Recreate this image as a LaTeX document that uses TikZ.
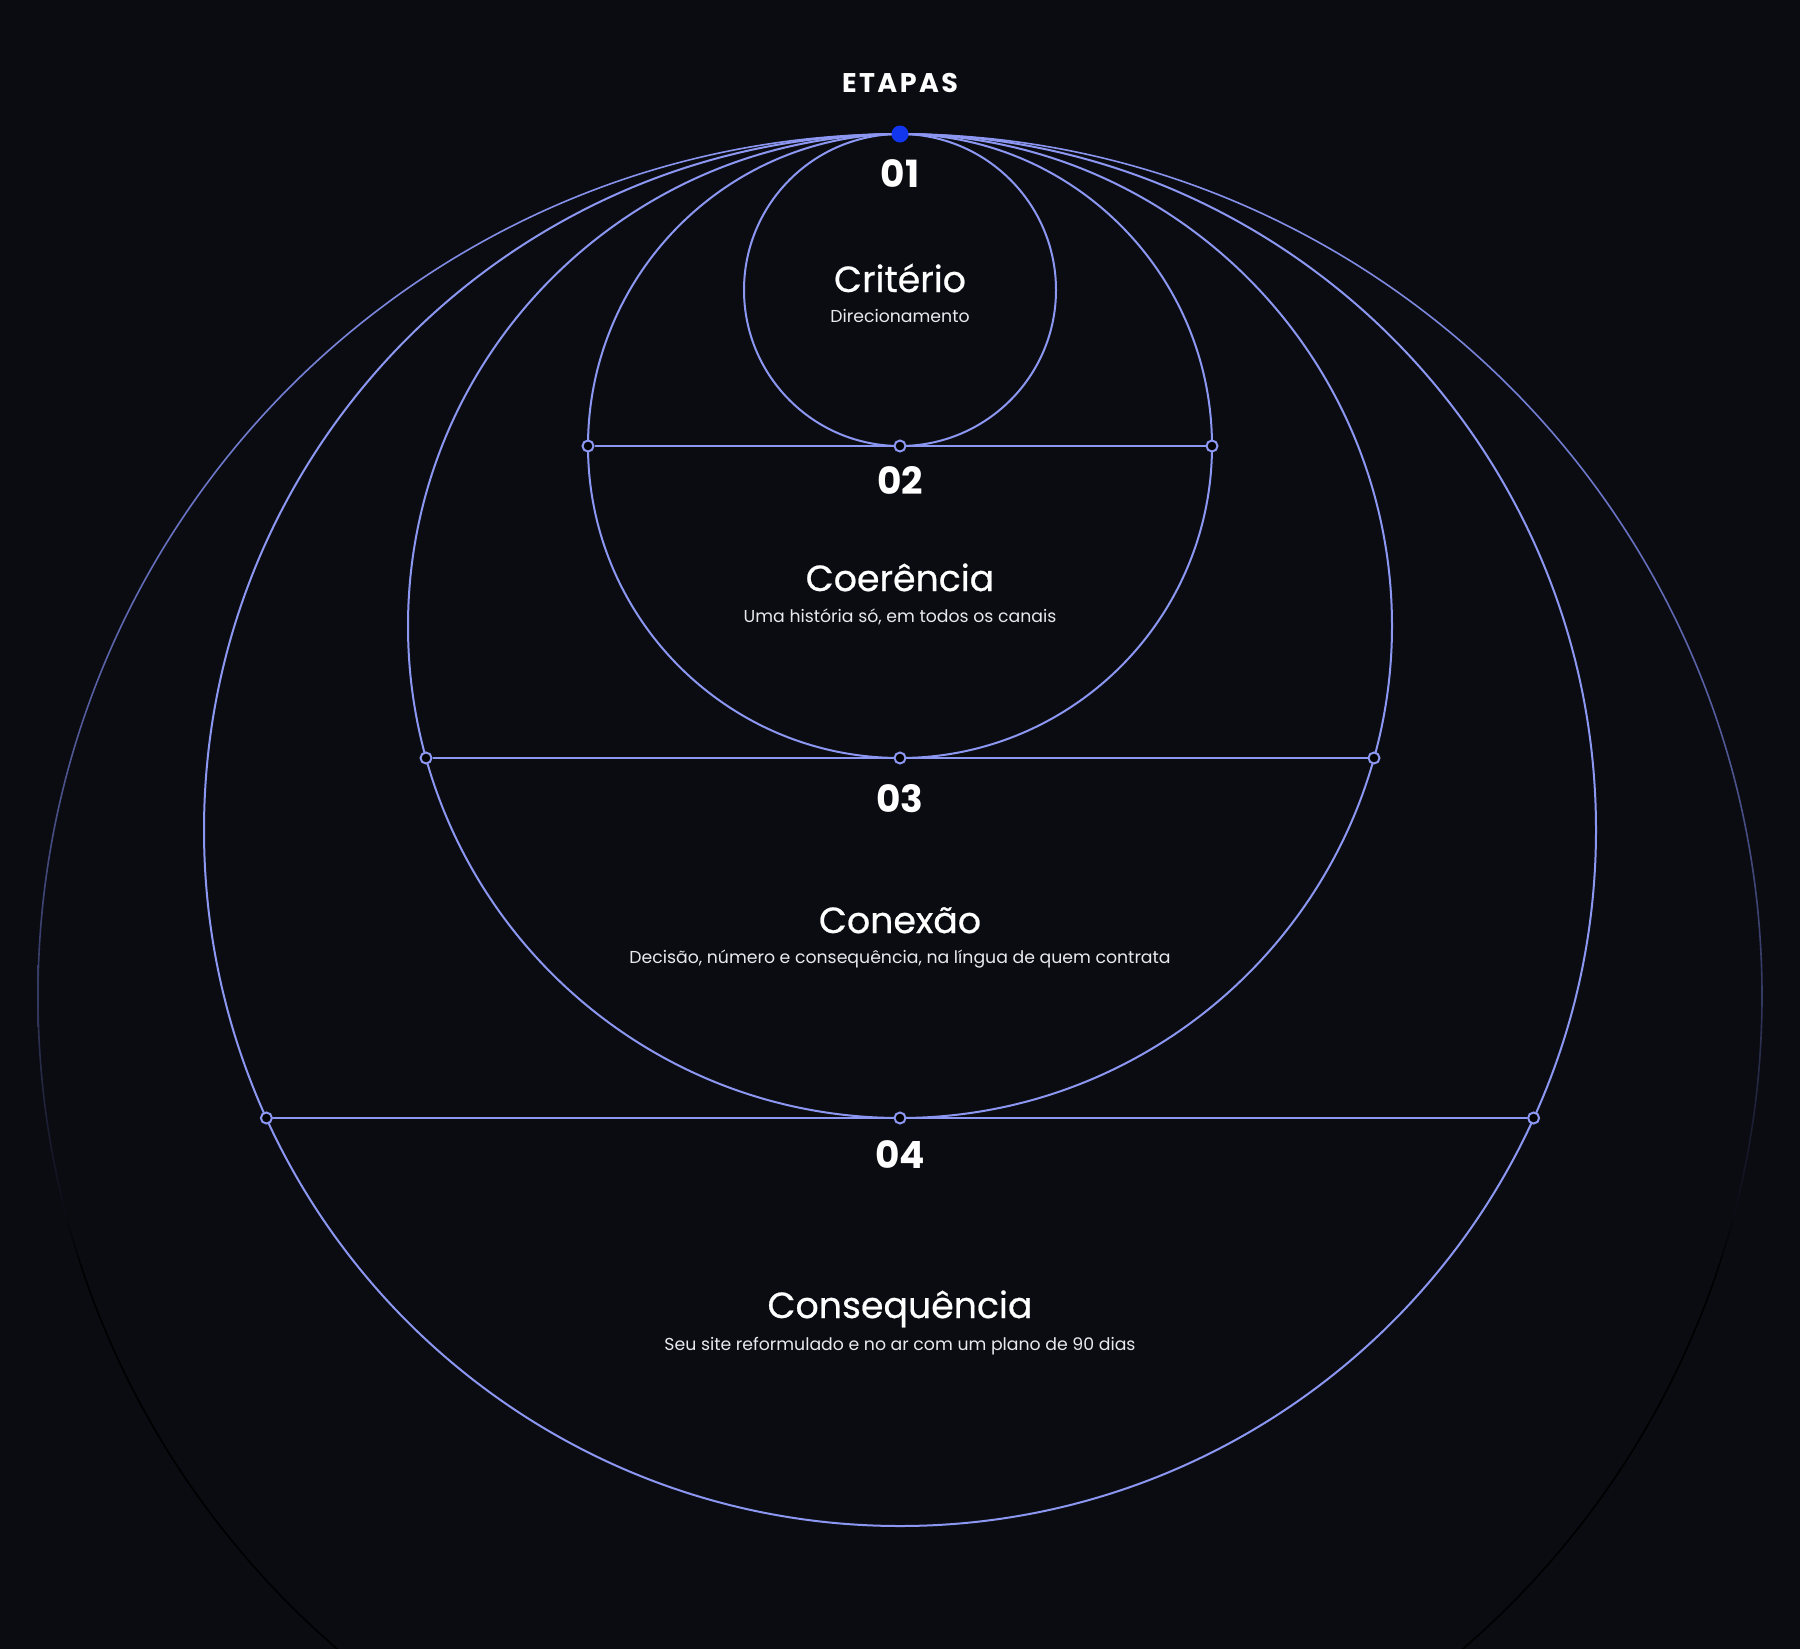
\documentclass[tikz,border=0pt]{standalone}
\usepackage{fontspec}
\setmainfont{Poppins}
\definecolor{bgc}{HTML}{0B0C12}
\definecolor{ln}{HTML}{8C97F2}
\definecolor{topdot}{HTML}{1236EE}
\definecolor{ringtop}{HTML}{8C97F2}
\definecolor{ringup}{HTML}{6A74C6}
\definecolor{ringmid}{HTML}{343960}
\definecolor{subc}{HTML}{E8E8EE}
\pgfdeclareverticalshading{ringfade}{100bp}{color(0bp)=(black); color(25bp)=(black); color(42bp)=(black); color(50bp)=(ringmid); color(64bp)=(ringup); color(75bp)=(ringtop); color(100bp)=(ringtop)}
\begin{document}
\begin{tikzpicture}[x=1pt,y=-1pt,
  ring/.style={draw=ln, line width=2pt},
  hollowdot/.style={circle, draw=ln, line width=2pt, fill=black, inner sep=0pt, minimum size=11pt},
  bluedot/.style={circle, fill=topdot, inner sep=0pt, minimum size=17pt},
  link/.style={draw=ln, line width=2pt},
  steptitle/.style={text=white, anchor=base, inner sep=0pt, font=\fontsize{36.3}{38}\selectfont\addfontfeatures{FakeBold=0.6}},
  stepsub/.style={text=subc, anchor=base, inner sep=0pt, font=\fontsize{17.3}{19}\selectfont},
  stepnum/.style={text=white, anchor=base, inner sep=0pt, font=\fontsize{37.5}{40}\selectfont\bfseries},
  header/.style={text=white, anchor=base, inner sep=0pt, font=\fontsize{27}{29}\selectfont\bfseries\addfontfeatures{LetterSpace=9}}
]
\fill[bgc] (0,0) rectangle (1800,1649);
\useasboundingbox (0,0) rectangle (1800,1649);
\begin{scope}
\clip (0,0) rectangle (1800,1649);
% outer fading ring
\shade[shading=ringfade, even odd rule] (900,996) circle (862.8) (900,996) circle (861.2);
% nested circles
\draw[ring] (900,290) circle (156);
\draw[ring] (900,446) circle (312);
\draw[ring] (900,626) circle (492);
\draw[ring] (900,830) circle (696);
\end{scope}

% dots
\node[bluedot] (top) at (900,134) {};
\node[hollowdot] (d2l) at (588,446) {};
\node[hollowdot] (d2c) at (900,446) {};
\node[hollowdot] (d2r) at (1212,446) {};
\node[hollowdot] (d3l) at (426,758) {};
\node[hollowdot] (d3c) at (900,758) {};
\node[hollowdot] (d3r) at (1374,758) {};
\node[hollowdot] (d4l) at (266.4,1118) {};
\node[hollowdot] (d4c) at (900,1118) {};
\node[hollowdot] (d4r) at (1533.6,1118) {};

% connectors
\draw[link] (d2l) -- (d2c);
\draw[link] (d2c) -- (d2r);
\draw[link] (d3l) -- (d3c);
\draw[link] (d3c) -- (d3r);
\draw[link] (d4l) -- (d4c);
\draw[link] (d4c) -- (d4r);

% texts
\node[header] (hdr) at (900,92) {ETAPAS};
\node[stepnum] (n1) at (900,187) {01};
\node[steptitle] (t1) at (900,292) {Critério};
\node[stepsub] (s1) at (900,322) {Direcionamento};
\node[stepnum] (n2) at (900,494) {02};
\node[steptitle] (t2) at (900,591) {Coerência};
\node[stepsub] (s2) at (900,622) {Uma história só, em todos os canais};
\node[stepnum] (n3) at (900,812) {03};
\node[steptitle] (t3) at (900,933) {Conexão};
\node[stepsub] (s3) at (900,963) {Decisão, número e consequência, na língua de quem contrata};
\node[stepnum] (n4) at (900,1168) {04};
\node[steptitle] (t4) at (900,1318) {Consequência};
\node[stepsub] (s4) at (900,1350) {Seu site reformulado e no ar com um plano de 90 dias};
\end{tikzpicture}
\end{document}
